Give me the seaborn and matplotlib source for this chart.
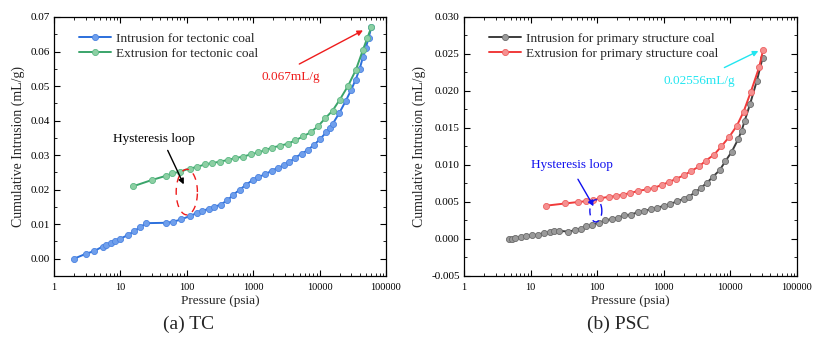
import numpy as np
import pandas as pd
import matplotlib
matplotlib.use("Agg")
import matplotlib.pyplot as plt
import seaborn as sns
from matplotlib.ticker import LogLocator, MultipleLocator, FixedLocator, FixedFormatter, NullFormatter

# ---------------- data ----------------
tc_intr_p = [2, 3, 4, 5.4, 6.0, 7.2, 8.3, 10, 12.8, 15.9, 19.6, 24.7, 48, 62, 83, 112, 141, 170,
             216, 260, 323, 408, 500, 626, 780, 984, 1200, 1500, 1900, 2350, 2860, 3470, 4290,
             5380, 6630, 8290, 10200, 12600, 14300, 15700, 19800, 24600, 29700, 34800, 40000,
             45000, 49300, 54700, 60000]
tc_intr_v = [0.0, 0.0014, 0.0022, 0.0035, 0.0039, 0.0046, 0.0052, 0.0058, 0.0068, 0.0079, 0.0091,
             0.0103, 0.0104, 0.0107, 0.0114, 0.0124, 0.0132, 0.0138, 0.0145, 0.0150, 0.0157, 0.0169,
             0.0185, 0.0200, 0.0214, 0.0228, 0.0237, 0.0244, 0.0255, 0.0263, 0.0270, 0.0279, 0.0293,
             0.0304, 0.0315, 0.0330, 0.0347, 0.0366, 0.0378, 0.0390, 0.0422, 0.0456, 0.0488, 0.0518,
             0.0549, 0.0584, 0.0609, 0.0639, 0.0670]
tc_extr_p = [15.7, 29.8, 48.5, 60, 79, 110, 144, 186, 242, 313, 417, 526, 710, 918, 1200, 1500,
             1930, 2540, 3300, 4330, 5630, 7300, 9400, 12200, 15700, 20200, 26900, 35000, 45000,
             52000, 60000]
tc_extr_v = [0.0210, 0.0228, 0.0240, 0.0247, 0.0252, 0.0261, 0.0266, 0.0273, 0.0277, 0.0281, 0.0286,
             0.0291, 0.0296, 0.0302, 0.0308, 0.0314, 0.0322, 0.0327, 0.0333, 0.0343, 0.0354, 0.0366,
             0.0383, 0.0407, 0.0429, 0.0461, 0.0501, 0.0546, 0.0605, 0.0638, 0.0670]

psc_intr_p = [4.75, 5.2, 5.8, 7.2, 8.5, 10.4, 12.9, 15.8, 19.4, 22.4, 26.5, 37, 47, 57, 69, 85, 105,
              132, 165, 205, 255, 320, 405, 505, 636, 800, 1000, 1250, 1570, 1980, 2370, 2930, 3600,
              4450, 5460, 6900, 8400, 10500, 13100, 14700, 16300, 19700, 25000, 30500]
psc_intr_v = [0.0, 0.00005, 0.0001, 0.0003, 0.0004, 0.0005, 0.0006, 0.0008, 0.0009, 0.0011, 0.0011,
              0.0010, 0.0012, 0.0014, 0.0017, 0.0019, 0.0022, 0.0025, 0.0027, 0.0029, 0.0032, 0.0033,
              0.0036, 0.0038, 0.0040, 0.0042, 0.0045, 0.0047, 0.0051, 0.0054, 0.0057, 0.0063, 0.0069,
              0.0076, 0.0084, 0.0093, 0.0105, 0.0118, 0.0135, 0.0146, 0.0159, 0.0182, 0.0214, 0.0245]
psc_extr_p = [17, 33, 52, 67, 88, 112, 148, 190, 240, 316, 410, 560, 710, 930, 1200, 1500, 2000,
              2600, 3380, 4300, 5700, 7300, 9600, 12500, 15800, 20300, 27000, 31000]
psc_extr_v = [0.0045, 0.0048, 0.0050, 0.0051, 0.0053, 0.0055, 0.0057, 0.0058, 0.0060, 0.0062, 0.0065,
              0.0067, 0.0069, 0.0073, 0.0077, 0.0081, 0.0086, 0.0092, 0.0098, 0.0106, 0.0114, 0.0125,
              0.0138, 0.0153, 0.0172, 0.0199, 0.0232, 0.02556]

x_ticks = [1, 10, 100, 1000, 10000, 100000]
x_tick_labels = ["1", "10", "100", "1000", "10000", "100000"]

# ---------------- style ----------------
sns.set_theme(style="ticks")
plt.rcParams['font.family'] = ['Liberation Serif', 'DejaVu Serif']

fig = plt.figure(figsize=(8.13, 3.44), dpi=100)
ax1 = fig.add_axes([0.0664, 0.1977, 0.4084, 0.7529])
ax2 = fig.add_axes([0.5707, 0.1977, 0.4096, 0.7529])


def draw_series(ax, p, v, line_c, face_c, edge_c, label):
    df = pd.DataFrame({"p": p, "v": v})
    sns.lineplot(data=df, x="p", y="v", ax=ax, color=line_c, lw=1.4, marker="o",
                 markersize=4.4, markerfacecolor=face_c, markeredgecolor=edge_c,
                 markeredgewidth=0.6, label=label, sort=False, estimator=None)


draw_series(ax1, tc_intr_p, tc_intr_v, "#2b6fdc", "#6f9fec", "#4a82e0",
            "Intrusion for tectonic coal")
draw_series(ax1, tc_extr_p, tc_extr_v, "#3aa46a", "#8ccfa3", "#5cb884",
            "Extrusion for tectonic coal")
draw_series(ax2, psc_intr_p, psc_intr_v, "#3c3c3c", "#9a9a9a", "#6a6a6a",
            "Intrusion for primary structure coal")
draw_series(ax2, psc_extr_p, psc_extr_v, "#f03a3a", "#f59090", "#ee6060",
            "Extrusion for primary structure coal")


def style_axis(ax, ylim, major, minor, fmt):
    ax.set_xscale("log")
    ax.set_xlim(1, 100000)
    ax.set_ylim(*ylim)
    ax.xaxis.set_major_locator(FixedLocator(x_ticks))
    ax.xaxis.set_major_formatter(FixedFormatter(x_tick_labels))
    ax.xaxis.set_minor_locator(LogLocator(base=10, subs=np.arange(2, 10), numticks=20))
    ax.xaxis.set_minor_formatter(NullFormatter())
    ax.yaxis.set_major_locator(MultipleLocator(major))
    ax.yaxis.set_minor_locator(MultipleLocator(minor))
    ax.yaxis.set_major_formatter(plt.FuncFormatter(lambda v, pos: fmt.format(v)))
    ax.tick_params(which="both", direction="in", top=True, right=True, colors="black")
    ax.tick_params(which="major", length=4, width=0.8)
    ax.tick_params(which="minor", length=2.2, width=0.6)
    ax.tick_params(axis="x", labelsize=7.5, pad=5)
    ax.tick_params(axis="y", labelsize=8, pad=3)
    for s in ax.spines.values():
        s.set_color("black")
        s.set_linewidth(0.9)
    ax.set_xlabel("Pressure (psia)", fontsize=9.5, labelpad=2)
    ax.set_ylabel("Cumulative Intrusion (mL/g)", fontsize=10, labelpad=4)
    ax.grid(False)
    ax.legend(loc="upper left", bbox_to_anchor=(0.052, 0.972), frameon=False,
              fontsize=9.6, handlelength=2.4, handletextpad=0.35, labelspacing=0.22,
              borderaxespad=0.2)


style_axis(ax1, (-0.005, 0.07), 0.01, 0.005, "{:.2f}")
style_axis(ax2, (-0.005, 0.030), 0.005, 0.0025, "{:.3f}")

# ---------------- annotations ----------------
t = np.linspace(0, 2 * np.pi, 200)
ax1.plot(10 ** (2.0 + 0.16 * np.cos(t)), 0.0193 + 0.0066 * np.sin(t), color="#ee1c1c",
         lw=1.0, ls=(0, (5, 4)))
ax1.annotate("", xy=(93.7, 0.0208), xytext=(49.5, 0.0321),
             arrowprops=dict(arrowstyle="-|>", color="black", lw=1.0, mutation_scale=8))
ax1.text(32, 0.0347, "Hysteresis loop", fontsize=9.5, color="black", ha="center", va="center")
ax1.annotate("", xy=(49000, 0.0665), xytext=(4540, 0.0560),
             arrowprops=dict(arrowstyle="-|>", color="#ee1c1c", lw=1.0, mutation_scale=8))
ax1.text(3680, 0.0526, "0.067mL/g", fontsize=9.5, color="#ee1c1c", ha="center", va="center")

ax2.plot(10 ** (1.98 + 0.09 * np.cos(t)), 0.0038 + 0.0015 * np.sin(t), color="#1010ee",
         lw=1.0, ls=(0, (5, 4)))
ax2.annotate("", xy=(92.5, 0.0041), xytext=(49, 0.0084),
             arrowprops=dict(arrowstyle="-|>", color="#1010ee", lw=1.0, mutation_scale=8))
ax2.text(42, 0.0100, "Hysteresis loop", fontsize=9.5, color="#1010ee", ha="center", va="center")
ax2.annotate("", xy=(28700, 0.02557), xytext=(7450, 0.0230),
             arrowprops=dict(arrowstyle="-|>", color="#22e6f0", lw=1.0, mutation_scale=8))
ax2.text(3390, 0.0214, "0.02556mL/g", fontsize=9.5, color="#22e6f0", ha="center", va="center")

fig.text(189 / 813, 1 - 324 / 344, "(a) TC", fontsize=14, ha="center", va="center")
fig.text(618 / 813, 1 - 324 / 344, "(b) PSC", fontsize=14, ha="center", va="center")

fig.savefig("out.png", dpi=100, facecolor="white")
